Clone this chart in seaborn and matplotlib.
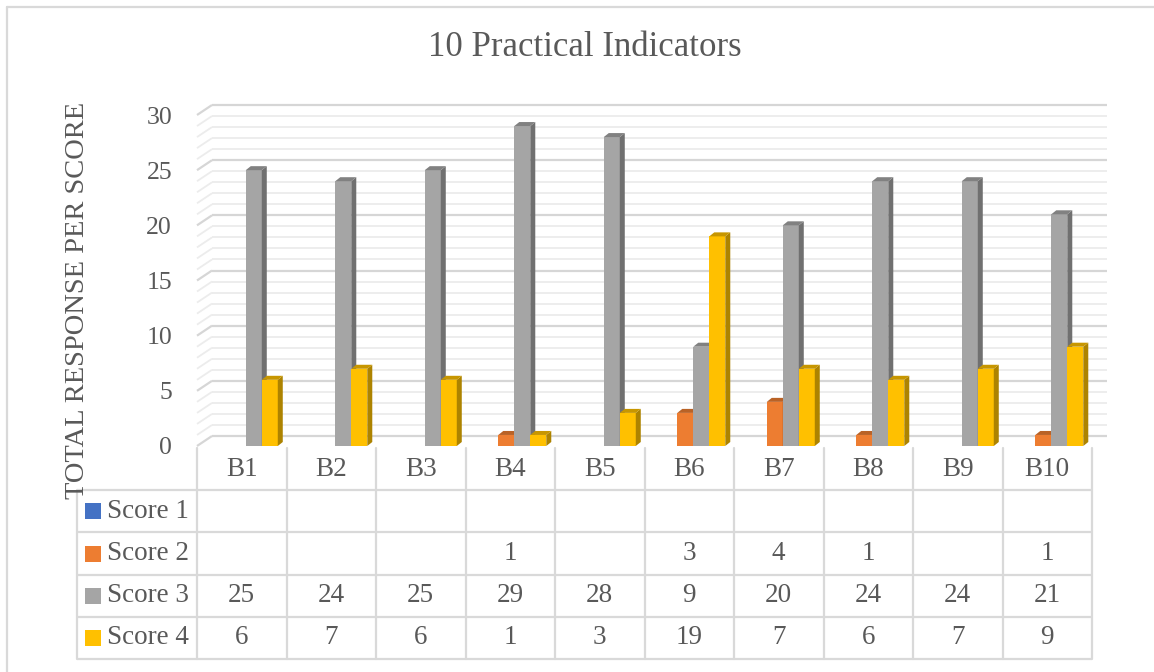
import numpy as np
import pandas as pd
import matplotlib
matplotlib.use("Agg")
import matplotlib.pyplot as plt
import seaborn as sns
from matplotlib.patches import Polygon, Rectangle
from matplotlib.colors import to_rgb

# ---------------- data ----------------
categories = ["B1", "B2", "B3", "B4", "B5", "B6", "B7", "B8", "B9", "B10"]
series_names = ["Score 1", "Score 2", "Score 3", "Score 4"]
score1 = [None, None, None, None, None, None, None, None, None, None]
score2 = [None, None, None, 1, None, 3, 4, 1, None, 1]
score3 = [25, 24, 25, 29, 28, 9, 20, 24, 24, 21]
score4 = [6, 7, 6, 1, 3, 19, 7, 6, 7, 9]
y_ticks = [0, 5, 10, 15, 20, 25, 30]
title = "10 Practical Indicators"
y_label = "TOTAL RESPONSE PER SCORE"

colors = ["#4472C4", "#ED7D31", "#A5A5A5", "#FFC000"]
text_color = "#595959"
line_color = "#d9d9d9"

all_series = [score1, score2, score3, score4]
rows = []
for name, vals in zip(series_names, all_series):
    for c, v in zip(categories, vals):
        if v is not None:
            rows.append({"category": c, "series": name, "count": v})
df = pd.DataFrame(rows)

# ---------------- figure ----------------
W, H = 1154, 672
sns.set_theme(style="white")
plt.rcParams["font.family"] = ["Liberation Serif", "DejaVu Serif"]

fig = plt.figure(figsize=(W / 100, H / 100), dpi=100)
fig.patch.set_facecolor("white")


def fx(px):
    return px / W


def fy(py):
    return 1 - py / H


front_left, front_right = 197, 1092
y_bottom_px, y_top_px = 446, 115
ax = fig.add_axes([fx(front_left), fy(y_bottom_px),
                   (front_right - front_left) / W, (y_bottom_px - y_top_px) / H])
ax.set_facecolor("none")

sns.barplot(data=df, x="category", y="count", hue="series", order=categories,
            hue_order=series_names, palette=dict(zip(series_names, colors)),
            width=0.715, saturation=1, errorbar=None, legend=False, ax=ax,
            edgecolor="none", linewidth=0)

shift = 0.045
xlim0, xlim1 = -0.5 - shift, len(categories) - 0.5 - shift
ax.set_xlim(xlim0, xlim1)
ax.set_ylim(0, 30)
for s in ax.spines.values():
    s.set_visible(False)
ax.set_xticks([])
ax.set_yticks(y_ticks)
ax.set_yticklabels([str(t) for t in y_ticks])
ax.tick_params(axis="y", length=0, pad=18, labelsize=18.5, labelcolor=text_color)
ax.set_xlabel("")
ax.set_ylabel("")
ax.grid(False)

# pixel -> data scale
p0 = ax.transData.transform((0, 0))
p1 = ax.transData.transform((1, 1))
ppx = p1[0] - p0[0]
ppy = p1[1] - p0[1]

# back wall gridlines (3D look)
bdx, bdy = 15 / ppx, 10 / ppy
for v in range(0, 31):
    major = (v % 5 == 0)
    col = "#d6d6d6" if major else "#ececec"
    lw = 1.6 if major else 1.3
    ax.plot([xlim0 + bdx, xlim1 + bdx], [v + bdy, v + bdy], color=col, lw=lw,
            zorder=0.5, clip_on=False, solid_capstyle="butt")
    ax.plot([xlim0, xlim0 + bdx], [v, v + bdy], color=col, lw=lw,
            zorder=0.5, clip_on=False, solid_capstyle="butt")


def shade(c, f):
    r, g, b = to_rgb(c)
    return (r * f, g * f, b * f)


# 3D faces for bars
ddx, ddy = 5 / ppx, 4 / ppy
rgb_cols = [to_rgb(c) for c in colors]
bars = list(ax.patches)
for rect in bars:
    h = rect.get_height()
    if h is None or not np.isfinite(h) or h <= 0:
        rect.set_visible(False)
        continue
    fc = rect.get_facecolor()[:3]
    k = int(np.argmin([sum((a - b) ** 2 for a, b in zip(fc, rc)) for rc in rgb_cols]))
    base = colors[k]
    rect.set_zorder(3 + 2 * k)
    x, w = rect.get_x(), rect.get_width()
    side = Polygon([(x + w, 0), (x + w + ddx, ddy), (x + w + ddx, h + ddy), (x + w, h)],
                   closed=True, facecolor=shade(base, 0.68), edgecolor="none",
                   zorder=3 + 2 * k + 0.5, clip_on=False)
    top = Polygon([(x, h), (x + ddx, h + ddy), (x + w + ddx, h + ddy), (x + w, h)],
                  closed=True, facecolor=shade(base, 0.78), edgecolor="none",
                  zorder=3 + 2 * k + 0.6, clip_on=False)
    ax.add_patch(side)
    ax.add_patch(top)

# ---------------- data table ----------------
table_top, table_bottom = 448, 659
tax = fig.add_axes([fx(front_left), fy(table_bottom),
                    (front_right - front_left) / W, (table_bottom - table_top) / H])
tax.set_xlim(xlim0, xlim1)
tax.set_ylim(5, 0)
tax.axis("off")
row_px = (table_bottom - table_top) / 5
legend_left = xlim0 - (front_left - 77) / ppx

for r in range(1, 6):
    tax.plot([legend_left, xlim1], [r, r], color=line_color, lw=1.6, clip_on=False,
             solid_capstyle="butt")
tax.plot([legend_left, legend_left], [1, 5], color=line_color, lw=1.6, clip_on=False)
for k in range(len(categories) + 1):
    tax.plot([xlim0 + k, xlim0 + k], [0, 5], color=line_color, lw=1.6, clip_on=False)

table_fs = 19.5
for i, c in enumerate(categories):
    tax.text(i - shift, 0.5, c, ha="center", va="center", fontsize=table_fs,
             color=text_color)

for r, (name, vals) in enumerate(zip(series_names, all_series)):
    yc = r + 1.5
    for i, v in enumerate(vals):
        if v is not None:
            tax.text(i - shift, yc, str(v), ha="center", va="center", fontsize=table_fs,
                     color=text_color)
    sq_w = 16 / ppx
    sq_h = 16 / row_px
    tax.add_patch(Rectangle((legend_left + 8 / ppx, yc - sq_h / 2), sq_w, sq_h,
                            facecolor=colors[r], edgecolor="none", clip_on=False))
    tax.text(legend_left + 30 / ppx, yc, name, ha="left", va="center", fontsize=table_fs,
             color=text_color)

# ---------------- titles / frame ----------------
fig.text(fx(585), fy(47), title, ha="center", va="center", fontsize=25, color=text_color)
fig.text(fx(78), fy(300), y_label, ha="center", va="center", rotation=90,
         fontsize=20.5, color=text_color)

fig.add_artist(plt.Line2D([fx(7), 1], [fy(7), fy(7)], color=line_color, lw=1.6,
                          transform=fig.transFigure))
fig.add_artist(plt.Line2D([fx(7), fx(7)], [fy(7), 0], color=line_color, lw=1.6,
                          transform=fig.transFigure))

fig.savefig("out.png", dpi=100, facecolor="white")
